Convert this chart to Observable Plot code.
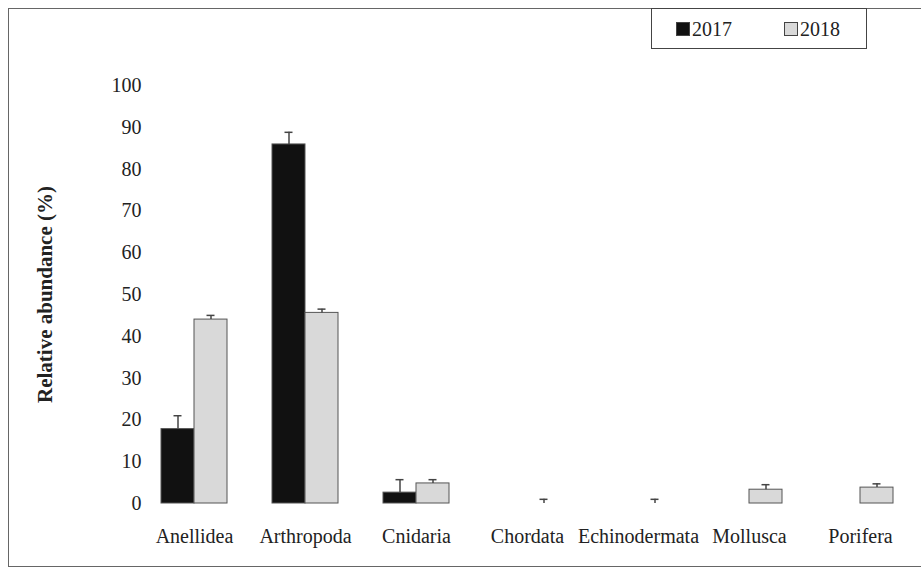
<!DOCTYPE html>
<html>
<head>
<meta charset="utf-8">
<script src="https://cdn.jsdelivr.net/npm/d3@7"></script>
<script src="https://cdn.jsdelivr.net/npm/@observablehq/plot@0.6"></script>
<style>
  body { margin: 0; background: #fff; }
  #wrap { position: relative; width: 921px; height: 569px; overflow: hidden; font-family: "Liberation Serif", "Times New Roman", serif; }
  #border { position: absolute; left: 8px; top: 8px; width: 940px; height: 559px; border: 1px solid #666; box-sizing: border-box; pointer-events: none; }
  #legend { position: absolute; left: 651px; top: 8px; width: 216px; height: 41px; border: 1px solid #444; background: #fff; box-sizing: border-box; font-size: 20px; color: #222; }
  .item { position: absolute; top: 8px; display: flex; align-items: center; height: 24px; }
  .sw { width: 12px; height: 12px; border: 1px solid #444; margin-right: 2px; }
  #chart svg [aria-label="y-axis label"] text, #chart svg [aria-label="y-axis label"] { font-weight: bold; font-size: 21px; }
</style>
</head>
<body>
<div id="wrap">
  <div id="chart"></div>
  <div id="border"></div>
  <div id="legend"></div>
</div>
<script>
// Relative abundance of phyla, 2017 vs 2018 (mean ± error)
const categories = ["Anellidea", "Arthropoda", "Cnidaria", "Chordata", "Echinodermata", "Mollusca", "Porifera"];
const years = ["2017", "2018"];
const abundance2017 = [17.8, 85.9, 2.6, 0, 0, 0, 0];
const abundance2018 = [44.0, 45.6, 4.8, 0, 0, 3.3, 3.8];
const error2017 = [3.2, 2.9, 3.1, 0, 0, 0, 0];
const error2018 = [1.0, 0.9, 0.9, 1.0, 1.0, 1.2, 0.9];
const yTicks = [0, 10, 20, 30, 40, 50, 60, 70, 80, 90, 100];
const yearColors = ["#111111", "#d9d9d9"];

const rows = categories.flatMap((c, i) => [
  {category: c, year: "2017", value: abundance2017[i], error: error2017[i]},
  {category: c, year: "2018", value: abundance2018[i], error: error2018[i]}
]);
const bars = rows.filter(d => d.value > 0);
const errs = rows.filter(d => d.error > 0);

const chart = Plot.plot({
  width: 921,
  height: 569,
  marginLeft: 136,
  marginRight: 4,
  marginTop: 85,
  marginBottom: 66,
  style: {fontFamily: "'Liberation Serif', 'Times New Roman', serif", fontSize: "20px", background: "transparent", color: "#222"},
  fx: {domain: categories, paddingInner: 0.409, paddingOuter: 0.2045, axis: "bottom", label: null, tickSize: 0, tickPadding: 25},
  x: {domain: years, padding: 0, axis: null},
  y: {domain: [0, 100], ticks: yTicks, tickSize: 0, tickPadding: 20, label: "Relative abundance (%)", labelAnchor: "center", labelOffset: 124, labelArrow: false},
  color: {domain: years, range: yearColors},
  marks: [
    Plot.barY(bars, {fx: "category", x: "year", y: "value", fill: "year", stroke: "#555", strokeWidth: 1}),
    Plot.ruleX(errs, {fx: "category", x: "year", y1: "value", y2: d => d.value + d.error, stroke: "#444", strokeWidth: 1.5}),
    Plot.tickY(errs, {fx: "category", x: "year", y: d => d.value + d.error, stroke: "#444", strokeWidth: 1.5, insetLeft: 12.5, insetRight: 12.5})
  ]
});
document.getElementById("chart").appendChild(chart);

// Legend
const legend = document.getElementById("legend");
const legendX = [24, 132];
years.forEach((y, i) => {
  const item = document.createElement("div");
  item.className = "item";
  item.style.left = legendX[i] + "px";
  const sw = document.createElement("span");
  sw.className = "sw";
  sw.style.background = yearColors[i];
  const t = document.createElement("span");
  t.textContent = y;
  item.append(sw, t);
  legend.appendChild(item);
});
</script>
</body>
</html>
